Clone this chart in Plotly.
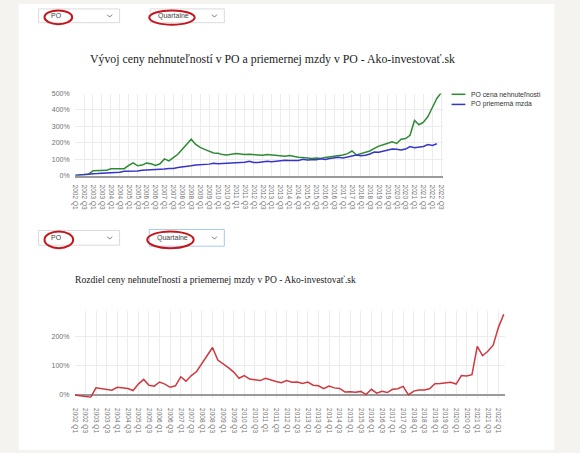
import plotly.graph_objects as go

W, H = 580, 453

quarters = [f"{y} Q{q}" for y in range(2002, 2023) for q in range(1, 5)][:83]

price_name = "PO cena nehnuteľností"
wage_name = "PO priemerná mzda"

price = [0, 4, 6, 8, 30, 30, 31, 32, 42, 42, 43, 42, 62, 78, 60, 64, 76, 72, 62, 72,
         102, 90, 110, 130, 160, 188, 222, 190, 172, 160, 148, 138, 136, 128, 126, 130,
         134, 132, 128, 130, 128, 122, 124, 128, 126, 120, 118, 118, 122, 116, 112, 110,
         106, 104, 108, 104, 110, 114, 118, 120, 126, 134, 150, 126, 134, 140, 150, 166,
         180, 188, 196, 206, 196, 222, 226, 246, 336, 310, 326, 360, 415, 470, 506]

wage = [0, 4, 8, 12, 12, 13, 14, 16, 18, 19, 21, 26, 26, 26, 28, 32, 33, 35, 36, 40,
        40, 43, 44, 50, 52, 56, 60, 64, 65, 67, 70, 76, 72, 74, 75, 80, 78, 80, 82, 88,
        80, 80, 82, 88, 84, 88, 88, 94, 92, 92, 92, 100, 95, 96, 96, 102, 98, 104, 106,
        112, 108, 113, 121, 126, 121, 124, 132, 144, 142, 148, 154, 162, 160, 156, 162,
        177, 170, 176, 178, 190, 184, 194]

diff = [0, -2, -5, -8, 24, 22, 20, 16, 26, 24, 22, 15, 37, 53, 33, 30, 44, 37, 26, 31,
        62, 47, 66, 80, 108, 134, 162, 119, 107, 93, 78, 57, 66, 54, 52, 49, 57, 51, 46,
        42, 49, 43, 44, 39, 44, 33, 31, 21, 30, 24, 22, 10, 11, 9, 12, 1, 19, 6, 12, 8,
        19, 21, 29, 0, 13, 17, 17, 21, 38, 39, 42, 43, 37, 66, 65, 69, 166, 134, 149, 170,
        231, 276]

top_title = "Vývoj ceny nehnuteľností v PO a priemernej mzdy v PO - Ako-investovať.sk"
bottom_title = "Rozdiel ceny nehnuteľností a priemernej mzdy v PO - Ako-investovať.sk"
top_yticks = [0, 100, 200, 300, 400, 500]
bottom_yticks = [0, 100, 200]

GREEN = "#2e8b34"
BLUE = "#3535c8"
RED = "#d0383f"
GRID = "#ececec"
TICKC = "#707070"
SANS = "Liberation Sans, Arial, sans-serif"
SERIF = "Liberation Serif, Times New Roman, serif"


def px(x):
    return x / W


def py(y):
    return 1 - y / H


fig = go.Figure()
fig.add_trace(go.Scatter(x=quarters[:len(price)], y=price, mode="lines", name=price_name,
                         line=dict(color=GREEN, width=1.5), xaxis="x", yaxis="y", showlegend=False))
fig.add_trace(go.Scatter(x=quarters[:len(wage)], y=wage, mode="lines", name=wage_name,
                         line=dict(color=BLUE, width=1.5), xaxis="x", yaxis="y", showlegend=False))
fig.add_trace(go.Scatter(x=quarters[:len(diff)], y=diff, mode="lines", name="Rozdiel",
                         line=dict(color=RED, width=1.5), xaxis="x2", yaxis="y2", showlegend=False))

xtickfont = dict(family=SANS, size=6.5, color=TICKC)
ytickfont = dict(family=SANS, size=7, color=TICKC)

fig.update_layout(
    width=W, height=H,
    margin=dict(l=0, r=0, t=0, b=0),
    paper_bgcolor="#f4f3ef",
    plot_bgcolor="rgba(0,0,0,0)",
    xaxis=dict(domain=[px(72), px(444)], range=[0, 82.3], type="category",
               categoryorder="array", categoryarray=quarters,
               tickvals=quarters[0:83:2], ticktext=quarters[0:83:2],
               tickangle=90, tickfont=xtickfont, showgrid=True, gridcolor=GRID, gridwidth=1,
               ticks="outside", ticklen=6, tickcolor="rgba(0,0,0,0)",
               showline=True, linecolor="#9a9a9a", linewidth=1.5, zeroline=False,
               anchor="y", fixedrange=True),
    yaxis=dict(domain=[py(174.3), py(91)], range=[0, 500], tickvals=top_yticks,
               ticktext=[f"{v}%" for v in top_yticks], tickfont=ytickfont,
               showgrid=True, gridcolor=GRID, zeroline=False, ticks="outside",
               ticklen=3, tickcolor="rgba(0,0,0,0)", anchor="x"),
    xaxis2=dict(domain=[px(71.7), px(507.3)], range=[0, 81.27], type="category",
                categoryorder="array", categoryarray=quarters[:82],
                tickvals=quarters[0:81:2], ticktext=quarters[0:81:2],
                tickangle=90, tickfont=xtickfont, showgrid=True, gridcolor=GRID,
                ticks="outside", ticklen=8, tickcolor="rgba(0,0,0,0)",
                showline=False, zeroline=False, anchor="y2"),
    yaxis2=dict(domain=[py(400), py(311.5)], range=[-10, 288], tickvals=bottom_yticks,
                ticktext=[f"{v}%" for v in bottom_yticks], tickfont=ytickfont,
                showgrid=True, gridcolor=GRID, zeroline=True, zerolinecolor="#9a9a9a",
                zerolinewidth=1.5, ticks="outside", ticklen=3,
                tickcolor="rgba(0,0,0,0)", anchor="x2"),
)

shapes = []
# white page panel
shapes.append(dict(type="rect", xref="paper", yref="paper", x0=px(15), x1=px(557),
                   y0=0, y1=1, fillcolor="white", line=dict(width=0), layer="below"))


def dropdown(x0, x1, y0, y1, border):
    shapes.append(dict(type="rect", xref="paper", yref="paper", x0=px(x0), x1=px(x1),
                       y0=py(y1), y1=py(y0), fillcolor="white",
                       line=dict(color=border, width=1), layer="below"))
    cx, cy = x1 - 10, (y0 + y1) / 2
    shapes.append(dict(type="path", xref="paper", yref="paper",
                       path=f"M {px(cx-2.5)},{py(cy-1.2)} L {px(cx)},{py(cy+1.3)} L {px(cx+2.5)},{py(cy-1.2)}",
                       line=dict(color="#777777", width=1)))


def ellipse(x0, x1, y0, y1):
    shapes.append(dict(type="circle", xref="paper", yref="paper", x0=px(x0), x1=px(x1),
                       y0=py(y1), y1=py(y0), line=dict(color="#c4161c", width=2)))


dropdown(35, 117, 5, 19, "#dadada")
dropdown(148, 223, 5, 19, "#dadada")
dropdown(35, 117, 230, 245, "#dadada")
dropdown(147, 223, 229, 246, "#a8c8ec")
ellipse(41, 69, 6.5, 20.5)
ellipse(147, 193, 6.5, 21)
ellipse(41, 70, 231, 248)
ellipse(145, 192, 231, 248)

# legend samples
shapes.append(dict(type="line", xref="paper", yref="paper", x0=px(453), x1=px(467),
                   y0=py(91.7), y1=py(91.7), line=dict(color=GREEN, width=1.5)))
shapes.append(dict(type="line", xref="paper", yref="paper", x0=px(453), x1=px(467),
                   y0=py(102), y1=py(102), line=dict(color=BLUE, width=1.5)))

annotations = [
    dict(text="PO", x=px(46), y=py(12), xanchor="left", yanchor="middle",
         font=dict(family=SANS, size=7, color="#444")),
    dict(text="Quartalne", x=px(154), y=py(12), xanchor="left", yanchor="middle",
         font=dict(family=SANS, size=7, color="#444")),
    dict(text="PO", x=px(46), y=py(237.5), xanchor="left", yanchor="middle",
         font=dict(family=SANS, size=7, color="#444")),
    dict(text="Quartalne", x=px(153), y=py(237.5), xanchor="left", yanchor="middle",
         font=dict(family=SANS, size=7, color="#444")),
    dict(text=top_title, x=px(271.5), y=py(56), xanchor="center", yanchor="middle",
         font=dict(family=SERIF, size=11.8, color="#222")),
    dict(text=bottom_title, x=px(70), y=py(280), xanchor="left", yanchor="middle",
         font=dict(family=SERIF, size=9.6, color="#222")),
    dict(text=price_name, x=px(470.5), y=py(91.7), xanchor="left", yanchor="middle",
         font=dict(family=SANS, size=6.8, color="#333")),
    dict(text=wage_name, x=px(470.5), y=py(102), xanchor="left", yanchor="middle",
         font=dict(family=SANS, size=6.8, color="#333")),
]
for a in annotations:
    a.update(xref="paper", yref="paper", showarrow=False)

fig.update_layout(shapes=shapes, annotations=annotations)
fig.write_html("out.html")
